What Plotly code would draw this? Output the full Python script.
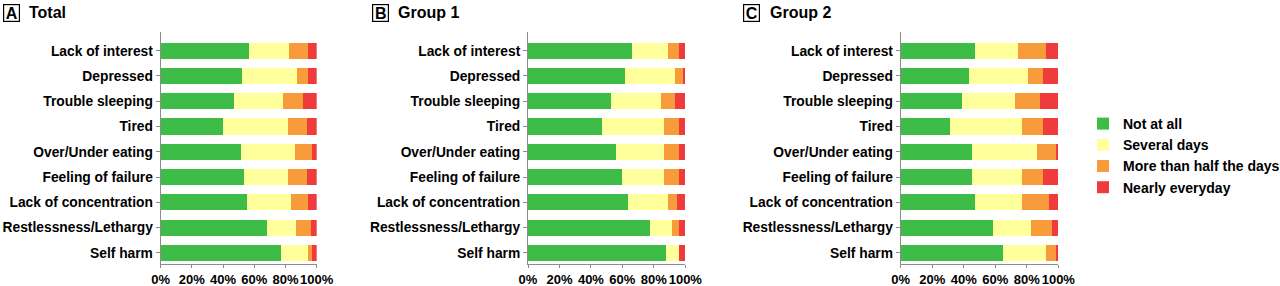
import plotly.graph_objects as go

categories = ["Lack of interest", "Depressed", "Trouble sleeping", "Tired",
              "Over/Under eating", "Feeling of failure", "Lack of concentration",
              "Restlessness/Lethargy", "Self harm"]
series_names = ["Not at all", "Several days", "More than half the days", "Nearly everyday"]
colors = ["#3dbd47", "#ffff9c", "#f89b3a", "#ef3b3b"]
panel_letters = ["A", "B", "C"]
panel_titles = ["Total", "Group 1", "Group 2"]
tick_vals = [0, 20, 40, 60, 80, 100]
tick_text = ["0%", "20%", "40%", "60%", "80%", "100%"]

# Panel A: Total (percent per response)
total_not = [56.8, 52.3, 46.8, 39.9, 51.3, 53.2, 55.1, 68.3, 76.9]
total_several = [25.6, 34.9, 31.8, 41.5, 34.8, 28.2, 28.4, 18.6, 17.5]
total_more = [12.0, 7.2, 12.4, 12.4, 11.1, 12.2, 11.1, 9.4, 2.8]
total_nearly = [5.6, 5.6, 9.0, 6.2, 2.8, 6.4, 5.4, 3.7, 2.8]

# Panel B: Group 1
g1_not = [66.1, 61.5, 52.6, 47.2, 55.9, 59.7, 63.3, 77.3, 87.9]
g1_several = [23.1, 31.7, 31.9, 39.0, 30.3, 26.5, 25.9, 14.2, 8.3]
g1_more = [7.0, 5.3, 8.7, 10.0, 10.0, 9.8, 5.3, 4.7, 0.0]
g1_nearly = [3.8, 1.5, 6.8, 3.8, 3.8, 4.0, 5.5, 3.8, 3.8]

# Panel C: Group 2
g2_not = [47.1, 43.1, 39.1, 31.3, 45.0, 45.0, 47.1, 58.7, 64.7]
g2_several = [27.5, 37.5, 33.6, 45.4, 41.3, 31.9, 29.8, 23.7, 27.5]
g2_more = [17.6, 9.6, 15.6, 13.5, 12.0, 13.3, 17.3, 13.8, 6.1]
g2_nearly = [7.8, 9.8, 11.7, 9.8, 1.7, 9.8, 5.8, 3.8, 1.7]

panels = [
    [total_not, total_several, total_more, total_nearly],
    [g1_not, g1_several, g1_more, g1_nearly],
    [g2_not, g2_several, g2_more, g2_nearly],
]

domains = [[0.1255, 0.2474], [0.4125, 0.5354], [0.7037, 0.8268]]
y_domain = [22/286, 254/286]
font_family = "Liberation Sans, Arial, sans-serif"

fig = go.Figure()
for p, data in enumerate(panels):
    xa = "x" if p == 0 else f"x{p+1}"
    ya = "y" if p == 0 else f"y{p+1}"
    for s, vals in enumerate(data):
        fig.add_trace(go.Bar(
            y=categories, x=vals, orientation="h", name=series_names[s],
            marker=dict(color=colors[s], line=dict(width=0)),
            xaxis=xa, yaxis=ya, showlegend=(p == 0),
        ))

layout = dict(
    width=1280, height=286, margin=dict(l=0, r=0, t=0, b=0, autoexpand=False),
    paper_bgcolor="white", plot_bgcolor="white",
    barmode="stack", bargap=0.36,
    font=dict(family=font_family, color="black"),
    legend=dict(x=1083/1280, y=1-108/286, xanchor="left", yanchor="top",
                traceorder="normal",
                font=dict(size=14, family=font_family, weight="bold"),
                itemwidth=30, tracegroupgap=0, bgcolor="rgba(0,0,0,0)"),
)
annotations = []
for p in range(3):
    sfx = "" if p == 0 else str(p + 1)
    layout[f"xaxis{sfx}"] = dict(
        domain=domains[p], range=[0, 100], tickvals=tick_vals, ticktext=tick_text,
        showgrid=False, zeroline=False, showline=True, linecolor="#8c8c8c", linewidth=1,
        ticks="outside", ticklen=3, tickcolor="#8c8c8c", automargin=False,
        tickangle=0, ticklabelstandoff=0,
        tickfont=dict(size=13, family=font_family, weight="bold", color="black"),
        anchor="y" + sfx, fixedrange=True,
    )
    layout[f"yaxis{sfx}"] = dict(
        domain=y_domain, categoryorder="array", categoryarray=categories,
        range=[8.44, -0.74], showgrid=False, zeroline=False,
        showline=True, linecolor="#8c8c8c", linewidth=1,
        ticks="outside", ticklen=4, tickcolor="#8c8c8c", automargin=False,
        tickfont=dict(size=13.8, family=font_family, weight="bold", color="black"),
        anchor="x" + sfx, ticklabelstandoff=0, fixedrange=True,
    )
letter_x = [11.5, 380, 751]
title_x = [27, 396, 768]
for p in range(3):
    annotations.append(dict(
        x=letter_x[p]/1280, y=1-13/286, xref="paper", yref="paper",
        text=panel_letters[p], showarrow=False, xanchor="center", yanchor="middle",
        font=dict(size=16, family=font_family, weight="bold", color="black"),
        bordercolor="black", borderwidth=1.2, borderpad=0, width=15, height=16,
    ))
    annotations.append(dict(
        x=title_x[p]/1280, y=1-13/286, xref="paper", yref="paper",
        text=panel_titles[p], showarrow=False, xanchor="left", yanchor="middle",
        font=dict(size=16, family=font_family, weight="bold", color="black"),
    ))
layout["annotations"] = annotations
fig.update_layout(**layout)
fig.write_html("out.html", config={"displayModeBar": False},
               post_script="document.body.style.margin='0';document.body.style.overflow='hidden';")
